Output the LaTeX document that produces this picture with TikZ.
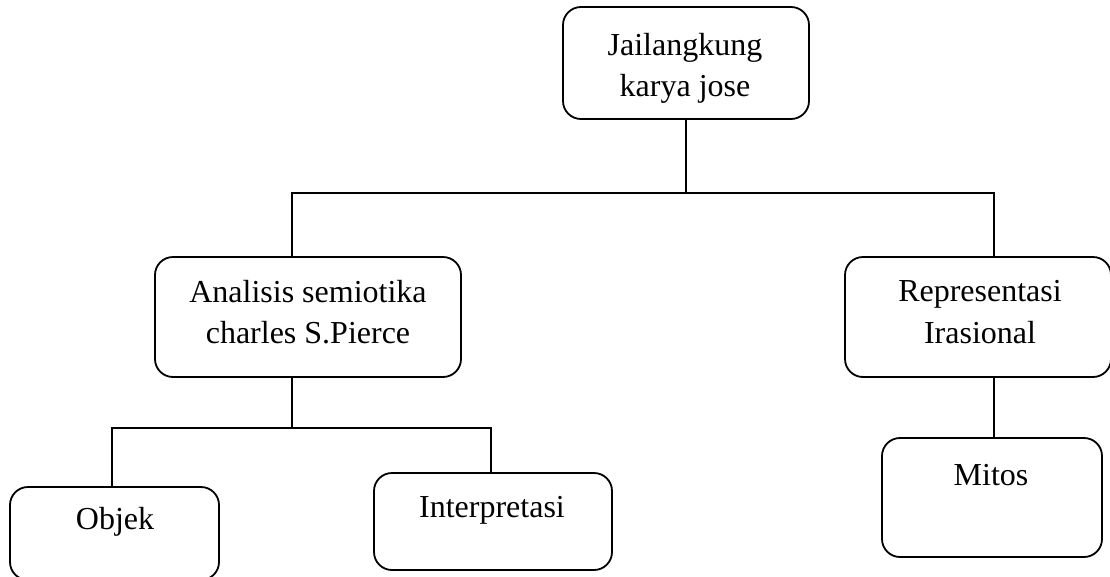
\documentclass[tikz,border=0pt]{standalone}
\usepackage{fontspec}
\setmainfont{Liberation Serif}
\begin{document}
\begin{tikzpicture}[x=1pt,y=-1pt,
  box/.style={draw,line width=1.8pt,rounded corners=18pt,inner sep=0pt},
  txt/.style={anchor=base,inner sep=0pt,font=\fontsize{32pt}{41pt}\selectfont},
  link/.style={line width=1.8pt}]
\useasboundingbox (0,0) rectangle (1110,576);
% boxes
\node[box,minimum width=246pt,minimum height=112pt] (top) at (686,63) {};
\node[box,minimum width=306pt,minimum height=120pt] (left) at (308,317) {};
\node[box,minimum width=266pt,minimum height=120pt] (right) at (978,317) {};
\node[box,minimum width=209pt,minimum height=93pt] (objek) at (114.5,533.5) {};
\node[box,minimum width=238pt,minimum height=97pt] (interp) at (493,521.5) {};
\node[box,minimum width=220pt,minimum height=119pt] (mitos) at (992,497.5) {};
% texts
\node[txt] (t1) at (685,55) {Jailangkung};
\node[txt] (t2) at (685,96) {karya jose};
\node[txt] (l1) at (308,302) {Analisis semiotika};
\node[txt] (l2) at (308,343) {charles S.Pierce};
\node[txt] (r1) at (980,301) {Representasi};
\node[txt] (r2) at (980,343) {Irasional};
\node[txt] (o1) at (115,529) {Objek};
\node[txt] (i1) at (492,517) {Interpretasi};
\node[txt] (m1) at (991,485) {Mitos};
% connectors
\coordinate (ja) at (292,193);
\coordinate (jb) at (994,193);
\coordinate (jc) at (112,428);
\coordinate (jd) at (491,428);
\draw[link] (top.south) -- (top.south |- ja);
\draw[link] (ja |- left.north) -- (ja) -- (jb) -- (jb |- right.north);
\draw[link] (ja |- left.south) -- (ja |- jc);
\draw[link] (jc |- objek.north) -- (jc) -- (jd) -- (jd |- interp.north);
\draw[link] (jb |- right.south) -- (jb |- mitos.north);
\end{tikzpicture}
\end{document}
